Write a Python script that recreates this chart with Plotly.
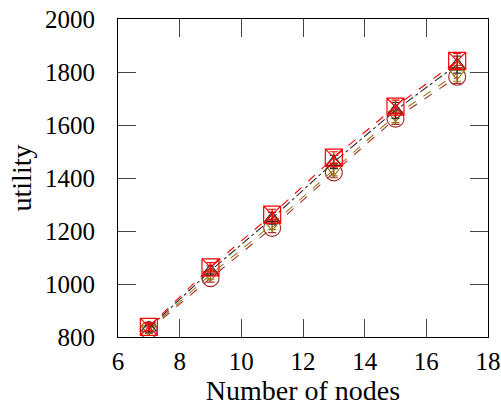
import plotly.graph_objects as go

nodes = [7, 9, 11, 13, 15, 17]

red_sq = [838, 1063, 1262, 1477, 1669, 1842]
red_sq_err = [15, 18, 20, 22, 25, 28]

black_tri = [834, 1050, 1248, 1460, 1655, 1828]
black_tri_err = [15, 18, 22, 25, 30, 32]

brown_circ = [826, 1022, 1212, 1421, 1624, 1782]
brown_circ_err = [12, 15, 18, 20, 22, 25]

olive_tri = [830, 1035, 1225, 1432, 1637, 1795]
olive_tri_err = [14, 17, 20, 24, 28, 30]

series = [
    (brown_circ, brown_circ_err, "#a0302a", "circle-open", 17, "dash"),
    (olive_tri, olive_tri_err, "#9a7a1a", "triangle-down-open", 13, "dash"),
    (black_tri, black_tri_err, "#303030", "triangle-up-open", 13, "dashdot"),
    (red_sq, red_sq_err, "#ff0000", "square-x-open", 17, "dash"),
]

fig = go.Figure()
for y, e, c, sym, sz, dash in series:
    fig.add_trace(go.Scatter(
        x=nodes, y=y, mode="lines+markers",
        line=dict(color=c, width=1.1, dash=dash),
        marker=dict(symbol=sym, size=sz, color=c, line=dict(width=1.2, color=c)),
        error_y=dict(type="data", array=e, color=c, thickness=1.2, width=4),
        showlegend=False,
    ))

font = dict(family="Liberation Serif, serif", size=25, color="black")
axis_common = dict(
    showline=True, linecolor="black", linewidth=1, mirror="ticks",
    ticks="inside", ticklen=18, tickcolor="#444", tickwidth=1,
    showgrid=False, zeroline=False, tickfont=font, automargin=False,
)
fig.update_xaxes(range=[6, 18], dtick=2, tick0=6, ticklabelstandoff=2,
                 title=dict(text="Number of nodes", font=dict(family="Liberation Serif, serif", size=28), standoff=4),
                 **axis_common)
fig.update_yaxes(range=[800, 2000], dtick=200, tick0=800, ticklabelstandoff=17,
                 title=dict(text="utility", font=dict(family="Liberation Serif, serif", size=28), standoff=5),
                 **axis_common)
fig.update_layout(
    width=501, height=411,
    margin=dict(l=118, r=13, t=19, b=74),
    plot_bgcolor="white", paper_bgcolor="white",
    font=font,
)
fig.write_html("out.html", config={"displayModeBar": False},
               post_script="document.body.style.margin='0';")
